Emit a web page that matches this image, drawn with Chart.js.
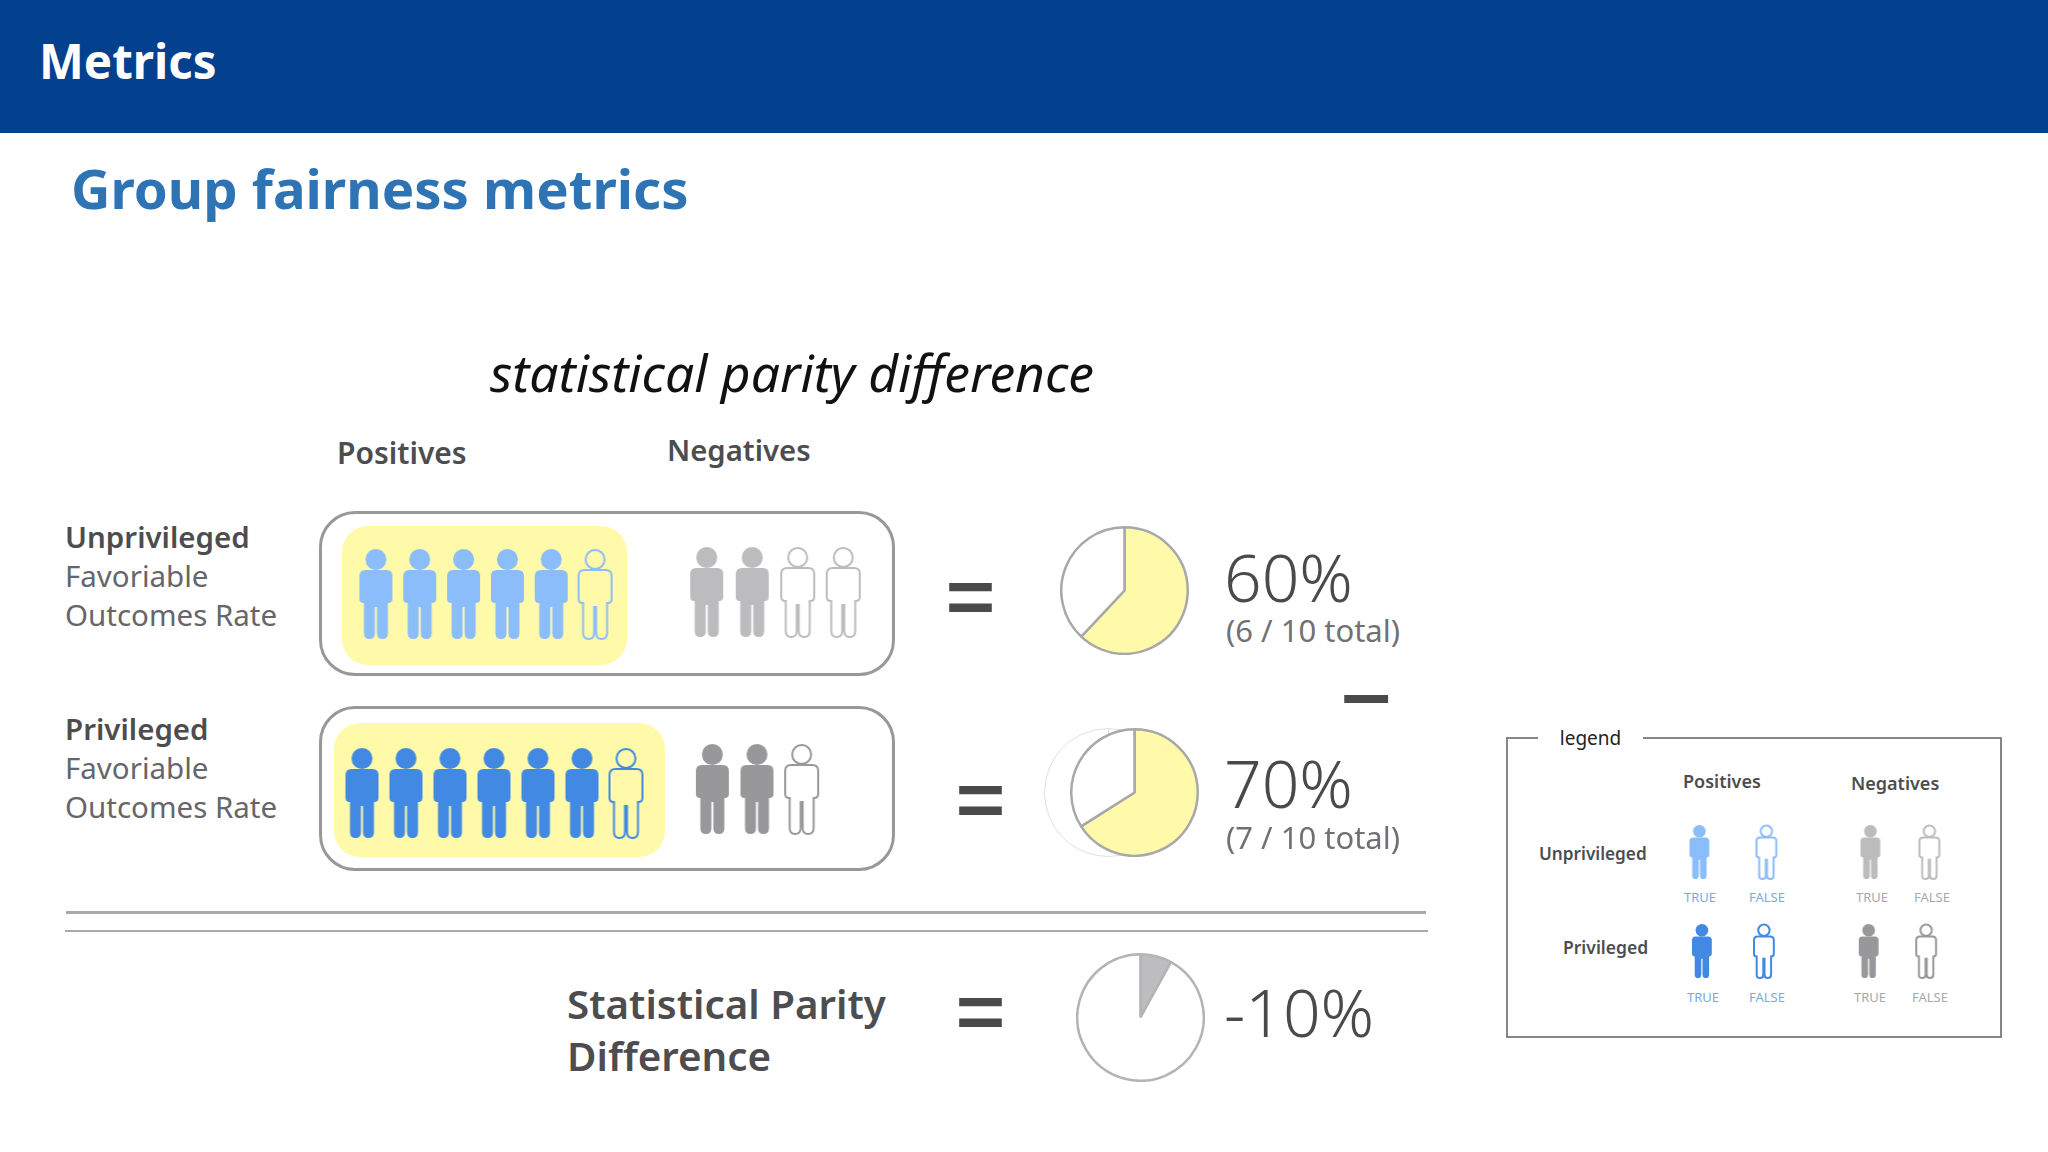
<!DOCTYPE html>
<html lang="en">
  <head>
    <meta charset="UTF-8" />
    <title>Metrics</title>
    <script src="https://cdn.jsdelivr.net/npm/chart.js"></script>
    <style>
      * { margin: 0; padding: 0; box-sizing: border-box; }
      body { width: 2048px; height: 1152px; overflow: hidden; background: #fff; position: relative;
        font-family: "Noto Sans", sans-serif; color: #4d4d50; }
      .t { position: absolute; white-space: nowrap; line-height: 1; transform: translateY(-50%); }
      canvas { position: absolute; display: block; }
      .header { position: absolute; left: 0; top: 0; width: 2048px; height: 133px; background: #03418f; }
      .rule { position: absolute; background: #a9a9ad; }
      .box { position: absolute; border: 3px solid #98989b; border-radius: 36px; background: #fff; }
      .hl { position: absolute; background: #fffaaa; border-radius: 26px; }
      .lg { position: absolute; left: 1506px; top: 737px; width: 496px; height: 301px; border: 2px solid #86868a; }
      .b { font-weight: 600; }
      .side { font-size: 29.5px; color: #66666a; left: 65px; }
      .big { font-size: 66px; font-weight: 300; left: 1224px; color: #4a4a4d; line-height: 0.72; }
      .sub { font-size: 31px; left: 1226px; color: #717175; line-height: 0.85; }
      .eq { font-family: "DejaVu Sans"; font-weight: 400; font-size: 68px; color: #4a4a4d;
        transform: translateY(-50%) scaleY(1.5); }
      .minus { font-family: "DejaVu Sans"; font-weight: 700; font-size: 70px; color: #4a4a4d; }
      .tf { font-size: 13px; transform: translate(-50%, -50%); }
    </style>
  </head>
  <body>
    <div class="header"></div>
    <div class="t" style="left:39px;top:61px;font-size:47.5px;font-weight:700;color:#fff">Metrics</div>
    <div class="t" style="left:71px;top:188px;font-size:54.5px;font-weight:700;color:#2e74b5">Group fairness metrics</div>
    <div class="t" style="left:490px;top:373px;font-size:51.5px;font-style:italic;color:#111">statistical parity difference</div>

    <div class="t b" style="left:337px;top:453px;font-size:30px">Positives</div>
    <div class="t b" style="left:667px;top:451px;font-size:29.3px">Negatives</div>

    <div class="t side b" style="top:537px;color:#4d4d50">Unprivileged</div>
    <div class="t side" style="top:576px">Favoriable</div>
    <div class="t side" style="top:615px">Outcomes Rate</div>
    <div class="t side b" style="top:729px;color:#4d4d50">Privileged</div>
    <div class="t side" style="top:768px">Favoriable</div>
    <div class="t side" style="top:807px">Outcomes Rate</div>

    <div class="box" style="left:319px;top:511px;width:576px;height:165px"></div>
    <div class="hl" style="left:342px;top:526px;width:285px;height:139px"></div>
    <div class="box" style="left:319px;top:706px;width:576px;height:165px"></div>
    <div class="hl" style="left:334px;top:723px;width:331px;height:134px"></div>

    <canvas id="rowUP" style="left:354px;top:546px" width="263" height="96"></canvas>
    <canvas id="rowUN" style="left:684px;top:544px" width="182" height="96"></canvas>
    <canvas id="rowPP" style="left:340px;top:745px" width="308" height="96"></canvas>
    <canvas id="rowPN" style="left:690px;top:741px" width="134" height="96"></canvas>

    <div class="t eq" style="left:942px;top:595px">=</div>
    <div class="t eq" style="left:952px;top:798px">=</div>
    <div class="t eq" style="left:952px;top:1010px">=</div>
    <div class="t minus" style="left:1337px;top:697px">−</div>

    <canvas id="pieUnpriv" style="left:1060px;top:526px" width="129" height="129"></canvas>
    <canvas id="pieGhost" style="left:1044px;top:728px" width="129" height="129"></canvas>
    <canvas id="piePriv" style="left:1070px;top:728px" width="129" height="129"></canvas>
    <canvas id="pieParity" style="left:1076px;top:953px" width="129" height="129"></canvas>

    <div class="t big" style="top:577px">60%</div>
    <div class="t sub" style="top:630px">(6 / 10 total)</div>
    <div class="t big" style="top:783px">70%</div>
    <div class="t sub" style="top:837px">(7 / 10 total)</div>
    <div class="t big" style="top:1012px">-10%</div>

    <div class="rule" style="left:66px;top:911px;width:1360px;height:3px"></div>
    <div class="rule" style="left:65px;top:930px;width:1363px;height:2px"></div>

    <div class="t b" style="left:567px;top:1004px;font-size:40.3px">Statistical Parity</div>
    <div class="t b" style="left:567px;top:1056px;font-size:40.3px">Difference</div>

    <div class="lg"></div>
    <div class="t" style="left:1538px;top:738px;width:105px;text-align:center;background:#fff;font-size:19px;color:#222;line-height:26px">legend</div>
    <div class="t b" style="left:1683px;top:781px;font-size:18px">Positives</div>
    <div class="t b" style="left:1851px;top:783px;font-size:18px">Negatives</div>
    <div class="t b" style="left:1539px;top:854px;font-size:17.2px">Unprivileged</div>
    <div class="t b" style="left:1563px;top:948px;font-size:17.5px">Privileged</div>

    <canvas id="lgUP" style="left:1666px;top:823px" width="134" height="58"></canvas>
    <canvas id="lgUN" style="left:1841px;top:823px" width="118" height="58"></canvas>
    <canvas id="lgPP" style="left:1671px;top:922px" width="124" height="58"></canvas>
    <canvas id="lgPN" style="left:1840px;top:922px" width="115" height="58"></canvas>

    <div class="t tf" style="left:1700px;top:897px;color:#7ea9dd">TRUE</div>
    <div class="t tf" style="left:1767px;top:897px;color:#7ea9dd">FALSE</div>
    <div class="t tf" style="left:1872px;top:897px;color:#a8a8ab">TRUE</div>
    <div class="t tf" style="left:1932px;top:897px;color:#a8a8ab">FALSE</div>
    <div class="t tf" style="left:1703px;top:997px;color:#7ea9dd">TRUE</div>
    <div class="t tf" style="left:1767px;top:997px;color:#7ea9dd">FALSE</div>
    <div class="t tf" style="left:1870px;top:997px;color:#a8a8ab">TRUE</div>
    <div class="t tf" style="left:1930px;top:997px;color:#a8a8ab">FALSE</div>

    <script>
      // people in each group, read left to right (1 = filled / TRUE, 0 = outline / FALSE)
      const unprivPositives = [1, 1, 1, 1, 1, 0];
      const unprivNegatives = [1, 1, 0, 0];
      const privPositives = [1, 1, 1, 1, 1, 1, 0];
      const privNegatives = [1, 1, 0];
      const legendPair = [1, 0];

      // pie slices as drawn in the picture, not as the labels say
      const unprivSlices = [62, 38];
      const privSlices = [66, 34];
      const paritySlices = [8, 92];

      const LIGHT_BLUE = "#8abdfa";
      const BLUE = "#4189e2";
      const LIGHT_GREY = "#bcbcbf";
      const GREY = "#98989b";

      const BODY = new Path2D(
        "M6 21 L27 21 Q33 21 33 27 L33 50 Q33 54 29 54 L28.5 54 L28.5 84 Q28.5 90 23 90 Q17.5 90 17.5 84 " +
          "L17.5 58 L15.5 58 L15.5 84 Q15.5 90 10 90 Q4.5 90 4.5 84 L4.5 54 L4 54 Q0 54 0 50 L0 27 Q0 21 6 21 Z"
      );

      function person(color, filled, h) {
        const s = h / 90;
        const c = document.createElement("canvas");
        c.width = Math.ceil(33 * s) + 4;
        c.height = Math.ceil(h) + 4;
        const ctx = c.getContext("2d");
        ctx.translate(2, 2);
        ctx.scale(s, s);
        ctx.fillStyle = color;
        ctx.strokeStyle = color;
        ctx.lineWidth = 2 / s;
        ctx.beginPath();
        ctx.arc(16.5, 10.5, filled ? 10.5 : 9.5, 0, Math.PI * 2);
        if (filled) {
          ctx.fill();
          ctx.fill(BODY);
        } else {
          ctx.stroke();
          ctx.stroke(BODY);
        }
        return c;
      }

      function drawPeople(id, people, color, h) {
        const on = person(color, true, h);
        const off = person(color, false, h);
        new Chart(document.getElementById(id), {
          type: "scatter",
          data: {
            datasets: [
              {
                data: people.map((p, i) => ({ x: i, y: 0 })),
                pointStyle: people.map((p) => (p ? on : off)),
                clip: false,
              },
            ],
          },
          options: {
            responsive: false,
            animation: false,
            events: [],
            layout: { autoPadding: false },
            plugins: { legend: { display: false }, tooltip: { enabled: false } },
            scales: {
              x: { display: false, min: -0.5, max: people.length - 0.5 },
              y: { display: false, min: -1, max: 1 },
            },
          },
        });
      }

      function drawPie(id, values, colors, borderColor, borderWidth) {
        new Chart(document.getElementById(id), {
          type: "pie",
          data: { datasets: [{ data: values, backgroundColor: colors, borderColor, borderWidth }] },
          options: {
            responsive: false,
            animation: false,
            events: [],
            plugins: { legend: { display: false }, tooltip: { enabled: false } },
          },
        });
      }

      drawPeople("rowUP", unprivPositives, LIGHT_BLUE, 90);
      drawPeople("rowUN", unprivNegatives, LIGHT_GREY, 90);
      drawPeople("rowPP", privPositives, BLUE, 90);
      drawPeople("rowPN", privNegatives, GREY, 90);

      drawPeople("lgUP", legendPair, LIGHT_BLUE, 54);
      drawPeople("lgUN", legendPair, LIGHT_GREY, 54);
      drawPeople("lgPP", legendPair, BLUE, 54);
      drawPeople("lgPN", legendPair, GREY, 54);

      drawPie("pieUnpriv", unprivSlices, ["#fffaaa", "#ffffff"], "#a8a8aa", 2.5);
      drawPie("pieGhost", [1], ["#ffffff"], "#e0e0e0", 1);
      drawPie("piePriv", privSlices, ["#fffaaa", "#ffffff"], "#a8a8aa", 2.5);
      drawPie("pieParity", paritySlices, ["#bdbdbf", "#ffffff"], "#b4b4b6", 2.5);
    </script>
  </body>
</html>
